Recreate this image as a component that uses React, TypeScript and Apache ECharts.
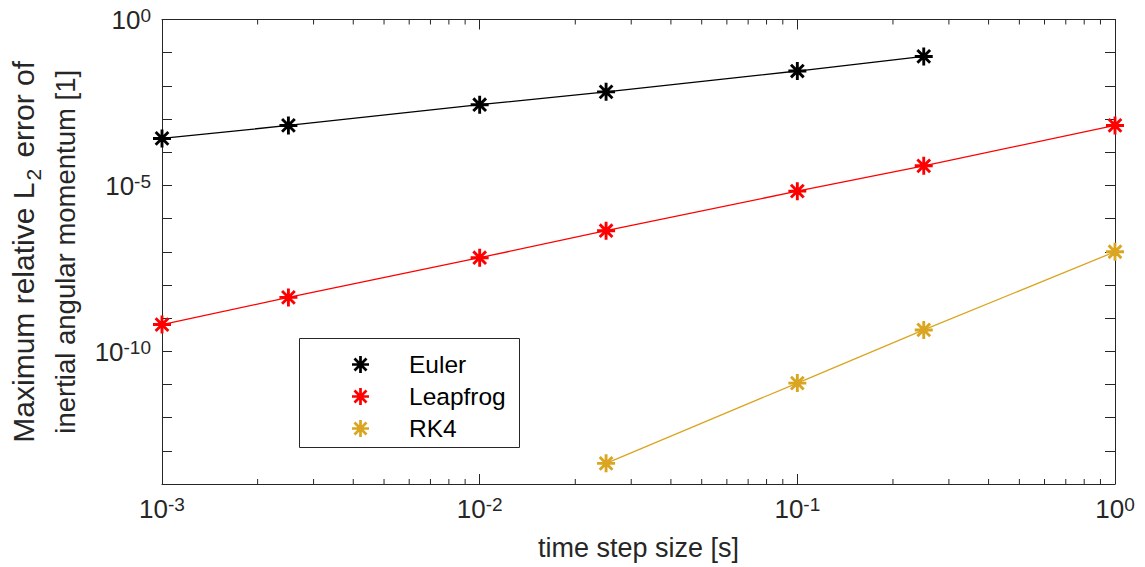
import React, { useEffect, useRef } from 'react';
import * as echarts from 'echarts';

// ---- data ----
const eulerSteps = [0.001, 0.0025, 0.01, 0.025, 0.1, 0.25];
const eulerErr = [2.6e-4, 6.4e-4, 2.7e-3, 6.6e-3, 2.8e-2, 7.7e-2];

const leapfrogSteps = [0.001, 0.0025, 0.01, 0.025, 0.1, 0.25, 1];
const leapfrogErr = [6.4e-10, 4.2e-9, 6.6e-8, 4.3e-7, 6.7e-6, 3.9e-5, 6.4e-4];

const rk4Steps = [0.025, 0.1, 0.25, 1];
const rk4Err = [4.2e-14, 1.1e-11, 4.4e-10, 1.0e-7];

const seriesNames = ['Euler', 'Leapfrog', 'RK4'];
const seriesColors = ['#000000', '#ff0000', '#daa520'];

const xMinorTicks = [
  0.002, 0.003, 0.004, 0.005, 0.006, 0.007, 0.008, 0.009,
  0.02, 0.03, 0.04, 0.05, 0.06, 0.07, 0.08, 0.09,
  0.2, 0.3, 0.4, 0.5, 0.6, 0.7, 0.8, 0.9,
];

const X_MIN = 1e-3;
const X_MAX = 1;
const Y_MIN = 1e-14;
const Y_MAX = 1;

const xAxisTitle = 'time step size [s]';
const yAxisTitleLine1a = 'Maximum relative L';
const yAxisTitleSub = '2';
const yAxisTitleLine1b = ' error of';
const yAxisTitleLine2 = 'inertial angular momentum [1]';

const AX = '#262626';
const FONT = '"Liberation Sans", Arial, Helvetica, sans-serif';

const ASTERISK =
  'path://M42 0L58 0L58 100L42 100Z M0 42L100 42L100 58L0 58Z ' +
  'M20.3 9L91 79.7L79.7 91L9 20.3Z ' +
  'M9 79.7L79.7 9L91 20.3L20.3 91Z';

const zip = (xs: number[], ys: number[]) => ys.map((y, i) => [xs[i], y]);

const expLabel = (v: number) => {
  const e = Math.round(Math.log10(v));
  return `{b|10}{s|${e}}`;
};

const tickRich = {
  b: { fontSize: 26, lineHeight: 27, padding: [7, 0, 0, 0], verticalAlign: 'bottom', color: AX, fontFamily: FONT },
  s: { fontSize: 19, lineHeight: 19, verticalAlign: 'top', color: AX, fontFamily: FONT },
};

export default function App() {
  const ref = useRef<HTMLDivElement>(null);

  useEffect(() => {
    if (!ref.current) return;
    const chart = echarts.init(ref.current, undefined, { renderer: 'svg' });

    const lineSeries = [
      zip(eulerSteps, eulerErr),
      zip(leapfrogSteps, leapfrogErr),
      zip(rk4Steps, rk4Err),
    ].map((data, i) => ({
      name: seriesNames[i],
      type: 'line',
      data,
      xAxisIndex: 0,
      yAxisIndex: 0,
      symbol: ASTERISK,
      symbolSize: 18,
      symbolKeepAspect: true,
      lineStyle: { color: seriesColors[i], width: 1.3 },
      itemStyle: { color: seriesColors[i] },
      z: 3,
    }));

    const option: any = {
      animation: false,
      backgroundColor: '#ffffff',
      textStyle: { fontFamily: FONT },
      grid: { left: 153, right: 30, top: 16, bottom: 83, containLabel: false },
      xAxis: [
        {
          type: 'log',
          logBase: 10,
          min: X_MIN,
          max: X_MAX,
          interval: 1,
          position: 'bottom',
          name: xAxisTitle,
          nameLocation: 'middle',
          nameGap: 50,
          nameTextStyle: { fontSize: 27, color: AX, fontFamily: FONT },
          axisLine: { show: true, lineStyle: { color: AX, width: 1 } },
          axisTick: { show: true, inside: true, length: 10, lineStyle: { color: AX } },
          axisLabel: { show: true, margin: 11, formatter: expLabel, rich: tickRich },
          splitLine: { show: false },
          minorTick: { show: false },
        },
        {
          type: 'log',
          logBase: 10,
          min: X_MIN,
          max: X_MAX,
          interval: 1,
          position: 'top',
          axisLine: { show: true, lineStyle: { color: AX, width: 1 } },
          axisTick: { show: true, inside: true, length: 10, lineStyle: { color: AX } },
          axisLabel: { show: false },
          splitLine: { show: false },
        },
      ],
      yAxis: [
        {
          type: 'log',
          logBase: 10,
          min: Y_MIN,
          max: Y_MAX,
          interval: 1,
          position: 'left',
          name:
            `{a|${yAxisTitleLine1a}}{sub|${yAxisTitleSub}}{a|${yAxisTitleLine1b}}\n{c|${yAxisTitleLine2}}`,
          nameLocation: 'middle',
          nameRotate: 90,
          nameGap: 76,
          nameTextStyle: {
            color: AX,
            fontFamily: FONT,
            fontSize: 28,
            rich: {
              a: { fontSize: 30, lineHeight: 36, verticalAlign: 'top', color: AX, fontFamily: FONT },
              sub: { fontSize: 21, lineHeight: 21, padding: [0, 3, 0, 2], verticalAlign: 'bottom', color: AX, fontFamily: FONT },
              c: { fontSize: 27.5, lineHeight: 42, color: AX, fontFamily: FONT },
            },
          },
          axisLine: { show: true, lineStyle: { color: AX, width: 1 } },
          axisTick: { show: true, inside: true, length: 10, lineStyle: { color: AX } },
          axisLabel: {
            show: true,
            margin: 11,
            formatter: (v: number) => {
              const e = Math.round(Math.log10(v));
              return e % 5 === 0 ? `{b|10}{s|${e}}` : '';
            },
            rich: tickRich,
          },
          splitLine: { show: false },
        },
        {
          type: 'log',
          logBase: 10,
          min: Y_MIN,
          max: Y_MAX,
          interval: 1,
          position: 'right',
          axisLine: { show: true, lineStyle: { color: AX, width: 1 } },
          axisTick: { show: true, inside: true, length: 10, lineStyle: { color: AX } },
          axisLabel: { show: false },
          splitLine: { show: false },
        },
      ],
      legend: {
        data: seriesNames,
        orient: 'vertical',
        left: 347,
        top: 347,
        itemGap: 7,
        itemWidth: 17,
        itemHeight: 17,
        icon: ASTERISK,
        selectedMode: false,
        textStyle: { fontSize: 24.5, color: '#000000', fontFamily: FONT, padding: [0, 0, 0, 35] },
      },
      graphic: [
        {
          type: 'rect',
          left: 299,
          top: 338,
          z: 1,
          shape: { width: 220, height: 109 },
          style: { fill: '#ffffff', stroke: AX, lineWidth: 1 },
          silent: true,
        },
      ],
      series: [
        ...lineSeries,
        {
          name: 'minorTicks',
          type: 'custom',
          xAxisIndex: 0,
          yAxisIndex: 0,
          silent: true,
          clip: false,
          data: xMinorTicks.map((v) => [v, Y_MIN]),
          encode: { x: 0, y: 1 },
          renderItem: (params: any, api: any) => {
            const v = api.value(0);
            const pb = api.coord([v, Y_MIN]);
            const pt = api.coord([v, Y_MAX]);
            const st = { stroke: AX, lineWidth: 1 };
            return {
              type: 'group',
              children: [
                { type: 'line', shape: { x1: pb[0], y1: pb[1], x2: pb[0], y2: pb[1] - 5 }, style: st },
                { type: 'line', shape: { x1: pt[0], y1: pt[1], x2: pt[0], y2: pt[1] + 5 }, style: st },
              ],
            };
          },
        },
      ],
    };

    chart.setOption(option);
    return () => chart.dispose();
  }, []);

  return (
    <div
      ref={ref}
      style={{ position: 'absolute', left: 0, top: 0, width: 1145, height: 567, background: '#fff' }}
    />
  );
}
